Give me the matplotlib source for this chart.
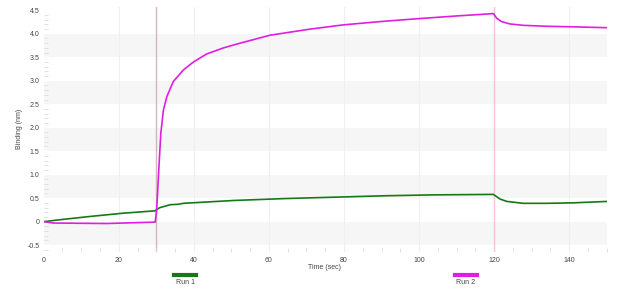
import matplotlib
matplotlib.use("Agg")
import matplotlib.pyplot as plt
from matplotlib.lines import Line2D
from matplotlib.ticker import MultipleLocator

plt.rcParams["font.family"] = ["Liberation Sans", "DejaVu Sans"]

# ---- data ----
run1_t = [0, 4.3, 12.3, 21.2, 29.7, 30.1, 31.0, 33.7, 35.9, 37.2, 50.5, 63.8, 77.2, 90.5,
          103.8, 119.8, 121.6, 123.4, 127.8, 134.0, 141.1, 150]
run1_v = [0.0, 0.04, 0.11, 0.18, 0.23, 0.26, 0.30, 0.36, 0.37, 0.39, 0.45, 0.49, 0.52, 0.55,
          0.57, 0.58, 0.48, 0.43, 0.39, 0.39, 0.40, 0.43]

run2_t = [0, 2.6, 16.8, 29.7, 30.1, 30.7, 31.2, 31.9, 32.8, 34.5, 37.2, 39.9, 43.4, 47.9,
          52.3, 60.3, 71.0, 79.8, 89.6, 99.4, 110.0, 119.8, 120.7, 122.0, 124.2, 127.8,
          134.0, 140.2, 150]
run2_v = [0.0, -0.03, -0.04, -0.01, 0.25, 1.17, 1.88, 2.38, 2.66, 2.98, 3.23, 3.40, 3.57, 3.70,
          3.80, 3.97, 4.10, 4.19, 4.26, 4.32, 4.38, 4.43, 4.33, 4.26, 4.21, 4.18,
          4.16, 4.15, 4.13]

series_names = ["Run 1", "Run 2"]
series_colors = ["#157a15", "#e21de2"]
step_times = [30, 120]
x_ticks = [0, 20, 40, 60, 80, 100, 120, 140]
y_ticks = [-0.5, 0, 0.5, 1.0, 1.5, 2.0, 2.5, 3.0, 3.5, 4.0, 4.5]
y_tick_labels = ["-0.5", "0", "0.5", "1.0", "1.5", "2.0", "2.5", "3.0", "3.5", "4.0", "4.5"]
band_ranges = [(-0.5, 0), (0.5, 1.0), (1.5, 2.0), (2.5, 3.0), (3.5, 4.0)]

TXT = "#444444"

# ---- figure ----
fig = plt.figure(figsize=(6.4, 2.93), dpi=100)
ax = fig.add_axes([0.0683, 0.141, 0.8797, 0.835])
ax.set_xlim(0, 150)
ax.set_ylim(-0.64, 4.57)

for lo, hi in band_ranges:
    ax.axhspan(lo, hi, color="#f6f6f6", zorder=0, lw=0)
for xt in x_ticks[1:]:
    ax.axvline(xt, color="#efefef", lw=0.8, zorder=0.5)

ax.axvline(step_times[0], color="#d2b8b8", lw=1.0, zorder=1)
ax.axvline(step_times[1], color="#f2c6d2", lw=1.0, zorder=1)

ax.plot(run1_t, run1_v, color=series_colors[0], lw=1.2, zorder=3)
ax.plot(run2_t, run2_v, color=series_colors[1], lw=1.2, zorder=3)

for s in ax.spines.values():
    s.set_visible(False)

ax.set_xticks(x_ticks)
ax.set_yticks(y_ticks)
ax.set_yticklabels(y_tick_labels)
ax.xaxis.set_minor_locator(MultipleLocator(5))
ax.yaxis.set_minor_locator(MultipleLocator(0.1))
ax.tick_params(axis="both", which="major", length=0, labelsize=5, labelcolor=TXT)
ax.tick_params(axis="y", which="major", pad=3)
ax.tick_params(axis="x", which="major", pad=4)
ax.tick_params(axis="both", which="minor", direction="in", length=3, color="#dddddd", width=0.6)

ax.set_ylabel("Binding (nm)", fontsize=5, color=TXT)
ax.yaxis.set_label_coords((23 - 44) / 562.7, 0.5)
fig.text(325 / 640, 1 - 267.5 / 293, "Time (sec)", ha="center", va="center",
         fontsize=5, color=TXT)

# legend below
leg_centers = [185, 466]
for name, col, cx in zip(series_names, series_colors, leg_centers):
    fig.add_artist(Line2D([(cx - 11) / 640, (cx + 11) / 640], [1 - 275 / 293] * 2,
                          color=col, lw=3, transform=fig.transFigure))
    fig.text(cx / 640, 1 - 283 / 293, name, ha="center", va="center",
             fontsize=5, color=TXT)

fig.savefig("out.png", dpi=100)
